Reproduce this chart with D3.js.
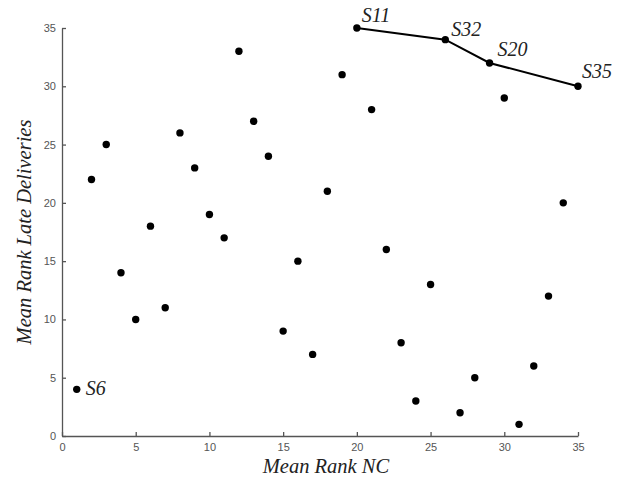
<!DOCTYPE html>
<html>
<head>
<meta charset="utf-8">
<script src="https://cdn.jsdelivr.net/npm/d3@7"></script>
<style>
  body { margin: 0; background: #fff; }
  .tick text { font-family: "Liberation Sans", Arial, sans-serif; font-size: 11px; fill: #555; }
  .lab { font-family: "Liberation Serif", "Times New Roman", serif; font-style: italic; fill: #222; }
</style>
</head>
<body>
<svg id="chart" width="627" height="479"></svg>
<script>
// DATA
var rankNC   = [1, 2, 3, 4, 5, 6, 7, 8, 9, 10, 11, 12, 13, 14, 15, 16, 17, 18,
                19, 20, 21, 22, 23, 24, 25, 26, 27, 28, 29, 30, 31, 32, 33, 34, 35];
var rankLate = [4, 22, 25, 14, 10, 18, 11, 26, 23, 19, 17, 33, 27, 24, 9, 15, 7, 21,
                31, 35, 28, 16, 8, 3, 13, 34, 2, 5, 32, 29, 1, 6, 12, 20, 30];
// labelled suppliers (front line + S6)
var frontNames = ['S11', 'S32', 'S20', 'S35'];
var frontNC    = [20, 26, 29, 35];
var frontLate  = [35, 34, 32, 30];
var otherNames = ['S6'];
var otherNC    = [1];
var otherLate  = [4];
var xTicks = [0, 5, 10, 15, 20, 25, 30, 35];
var yTicks = [0, 5, 10, 15, 20, 25, 30, 35];

var svg = d3.select('#chart');

// SCALES
var x = d3.scaleLinear().domain([0, 35]).range([62, 578]);
var y = d3.scaleLinear().domain([0, 35]).range([436, 28]);

// AXES (ticks point inward)
var xAxis = d3.axisBottom(x).tickValues(xTicks).tickSizeInner(-4).tickSizeOuter(0).tickPadding(7);
var yAxis = d3.axisLeft(y).tickValues(yTicks).tickSizeInner(-4).tickSizeOuter(0).tickPadding(6);

var gx = svg.append('g').attr('transform', 'translate(0,436)').call(xAxis);
var gy = svg.append('g').attr('transform', 'translate(62,0)').call(yAxis);
[gx, gy].forEach(function(g) {
  g.selectAll('path, line').attr('stroke', '#555').attr('stroke-width', 1.3);
});

// FRONT LINE
var pts = frontNC.map(function(v, i) { return [v, frontLate[i]]; });
svg.append('path')
  .datum(pts)
  .attr('fill', 'none')
  .attr('stroke', '#000')
  .attr('stroke-width', 2)
  .attr('d', d3.line().x(function(d) { return x(d[0]); }).y(function(d) { return y(d[1]); }));

// POINTS
var data = rankNC.map(function(v, i) { return { nc: v, late: rankLate[i] }; });
svg.selectAll('.dot')
  .data(data)
  .enter().append('circle')
  .attr('class', 'dot')
  .attr('cx', function(d) { return x(d.nc); })
  .attr('cy', function(d) { return y(d.late); })
  .attr('r', 3.7)
  .attr('fill', '#000');

// POINT LABELS
var labOffsets = [[5, -6], [6, -4], [8, -7], [4, -8]];
frontNames.forEach(function(n, i) {
  svg.append('text').attr('class', 'lab')
    .attr('x', x(frontNC[i]) + labOffsets[i][0])
    .attr('y', y(frontLate[i]) + labOffsets[i][1])
    .attr('font-size', '20px')
    .text(n);
});
otherNames.forEach(function(n, i) {
  svg.append('text').attr('class', 'lab')
    .attr('x', x(otherNC[i]) + 9)
    .attr('y', y(otherLate[i]) + 6)
    .attr('font-size', '20px')
    .text(n);
});

// AXIS LABELS
svg.append('text').attr('class', 'lab')
  .attr('x', 326).attr('y', 473)
  .attr('text-anchor', 'middle')
  .attr('font-size', '20.5px')
  .text('Mean Rank NC');
svg.append('text').attr('class', 'lab')
  .attr('transform', 'translate(31,232) rotate(-90)')
  .attr('text-anchor', 'middle')
  .attr('font-size', '20.5px')
  .text('Mean Rank Late Deliveries');
</script>
</body>
</html>
